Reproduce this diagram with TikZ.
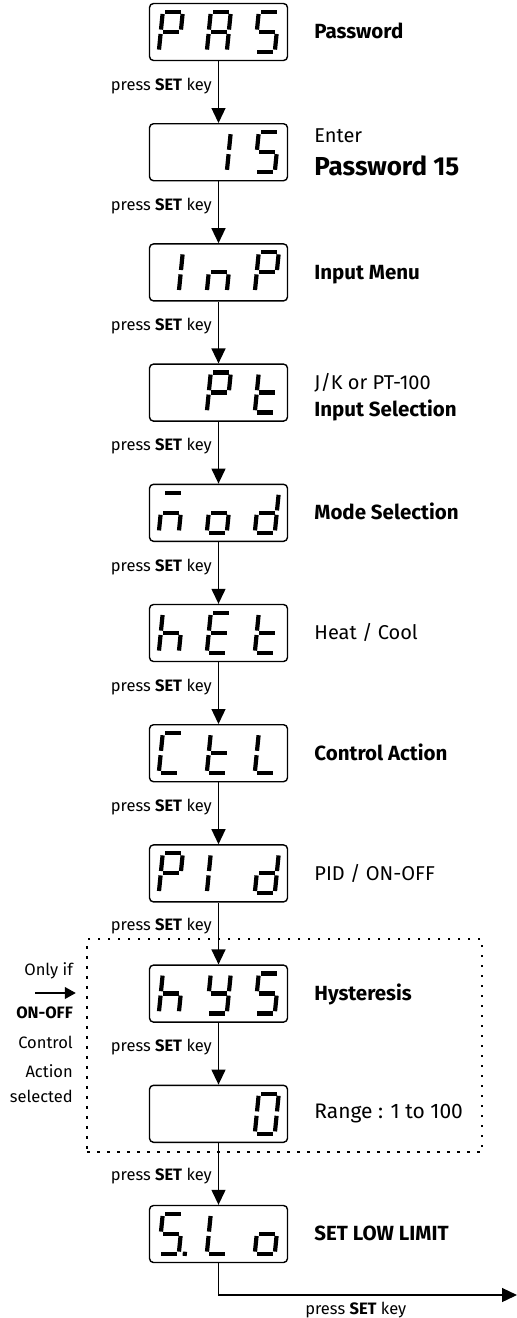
\documentclass[tikz,border=0pt]{standalone}
\usepackage{fontspec}
\setmainfont{Fira Sans}
\usetikzlibrary{arrows.meta,positioning,calc}
\tikzset{
  display/.style={draw,rounded corners=4pt,line width=1.4pt,
    minimum width=138pt,minimum height=57pt,inner sep=0pt},
  seg/.style={line width=4.2pt,line cap=butt},
  sega/.style={insert path={(2.2,0) -- (17.8,0)}},
  segb/.style={insert path={(20,2.2) -- (20,17.8)}},
  segc/.style={insert path={(20,22.2) -- (20,37.8)}},
  segd/.style={insert path={(2.2,40) -- (17.8,40)}},
  sege/.style={insert path={(0,22.2) -- (0,37.8)}},
  segf/.style={insert path={(0,2.2) -- (0,17.8)}},
  segg/.style={insert path={(2.2,20) -- (17.8,20)}},
  segdp/.style={insert path={(26,37.9) -- (26,42.1)}},
  segnone/.style={},
  lbl/.style={font=\fontsize{20}{24}\selectfont,inner sep=0pt,
    text height=13.8pt,text depth=0pt},
  boldlbl/.style={lbl,font=\fontsize{20.5}{24}\selectfont\bfseries},
  press/.style={font=\fontsize{16.5}{20}\selectfont,inner xsep=6pt,
    inner ysep=0pt,text height=11.4pt,text depth=0pt},
  note/.style={press,inner xsep=0pt},
  flowarrow/.style={-{Triangle[length=15pt,width=14pt]},line width=1.3pt},
  hintarrow/.style={-{Triangle[length=11pt,width=12pt]},line width=1.1pt},
  groupbox/.style={draw,line width=2.5pt,dash pattern=on 2.5pt off 7.5pt}
}
% one digit of a seven segment display, #2 = slot 0..2
\newcommand{\segslot}[3]{%
  \begin{scope}[shift={($(#1.north west)+(14+48*#2,9)$)},xslant=0.1]
    \foreach \sg in {#3} {\draw[seg,seg\sg];}
  \end{scope}}
\newcommand{\showcode}[4]{\segslot{#1}{0}{#2}\segslot{#1}{1}{#3}\segslot{#1}{2}{#4}}

\begin{document}
\begin{tikzpicture}[x=1pt,y=-1pt,node distance=61.8pt]
\useasboundingbox (0,0) rectangle (517,1318);
\node[display] (pas) at (218.5,32) {};
\node[display,below=of pas] (fifteen) {};
\node[display,below=of fifteen] (inp) {};
\node[display,below=of inp] (pt) {};
\node[display,below=of pt] (mod) {};
\node[display,below=of mod] (het) {};
\node[display,below=of het] (ctl) {};
\node[display,below=of ctl] (pid) {};
\node[display,below=of pid] (hys) {};
\node[display,below=of hys] (zero) {};
\node[display,below=of zero] (slo) {};

% what the displays show
\showcode{pas}{a,b,e,f,g}{a,b,c,e,f,g}{a,c,d,f,g}
\showcode{fifteen}{none}{b,c}{a,c,d,f,g}
\showcode{inp}{b,c}{c,e,g}{a,b,e,f,g}
\showcode{pt}{none}{a,b,e,f,g}{d,e,f,g}
\showcode{mod}{a,c,e,g}{c,d,e,g}{b,c,d,e,g}
\showcode{het}{c,e,f,g}{a,d,e,f,g}{d,e,f,g}
\showcode{ctl}{a,d,e,f}{d,e,f,g}{d,e,f}
\showcode{pid}{a,b,e,f,g}{e,f}{b,c,d,e,g}
\showcode{hys}{c,e,f,g}{b,c,d,f,g}{a,c,d,f,g}
\showcode{zero}{none}{none}{a,b,c,d,e,f}
\showcode{slo}{a,c,d,f,g,dp}{d,e,f}{c,d,e,g}

% descriptions
\node[boldlbl,right=26pt of pas] (paslbl) {Password};
\node[lbl,right=26pt of fifteen,yshift=16.5pt] (enterlbl) {Enter};
\node[boldlbl,font=\fontsize{26}{30}\selectfont\bfseries,text height=17.8pt,
  right=26pt of fifteen,yshift=-14.5pt] (pwlbl) {Password 15};
\node[boldlbl,right=26pt of inp] (inplbl) {Input Menu};
\node[lbl,right=26pt of pt,yshift=10pt] (typelbl) {J/K or PT-100};
\node[boldlbl,right=26pt of pt,yshift=-16.5pt] (ptlbl) {Input Selection};
\node[boldlbl,right=26pt of mod] (modlbl) {Mode Selection};
\node[lbl,right=26pt of het] (hetlbl) {Heat / Cool};
\node[boldlbl,right=26pt of ctl] (ctllbl) {Control Action};
\node[lbl,right=26pt of pid] (pidlbl) {PID / ON-OFF};
\node[boldlbl,right=26pt of hys] (hyslbl) {Hysteresis};
\node[lbl,font=\fontsize{21}{25}\selectfont,text height=14.5pt,
  right=26pt of zero,yshift=3pt] (rangelbl) {Range : 1 to 100};
\node[boldlbl,right=26pt of slo] (slolbl) {SET LOW LIMIT};

% ON-OFF only part
\node[groupbox,minimum width=395pt,minimum height=213pt] (opt) at (284.5,1045.5) {};
\node[note,anchor=east] (onlyif) at (73,970) {Only if};
\node[note,anchor=east] (onoff) at (73,1013) {\textbf{ON-OFF}};
\node[note,anchor=east] (control) at (73,1043) {Control};
\node[note,anchor=east] (action) at (73,1072) {Action};
\node[note,anchor=east] (selected) at (73,1097) {selected};
\coordinate (hint) at (35,993);
\draw[hintarrow,shorten >=10pt] (hint) -- (hint -| opt.west);

\draw[flowarrow] (pas) -- node[press,left,pos=0.38] {press \textbf{SET} key} (fifteen);
\draw[flowarrow] (fifteen) -- node[press,left,pos=0.38] {press \textbf{SET} key} (inp);
\draw[flowarrow] (inp) -- node[press,left,pos=0.38] {press \textbf{SET} key} (pt);
\draw[flowarrow] (pt) -- node[press,left,pos=0.38] {press \textbf{SET} key} (mod);
\draw[flowarrow] (mod) -- node[press,left,pos=0.38] {press \textbf{SET} key} (het);
\draw[flowarrow] (het) -- node[press,left,pos=0.38] {press \textbf{SET} key} (ctl);
\draw[flowarrow] (ctl) -- node[press,left,pos=0.38] {press \textbf{SET} key} (pid);
\draw[flowarrow] (pid) -- node[press,left,pos=0.36] {press \textbf{SET} key} (hys);
\draw[flowarrow] (hys) -- node[press,left,pos=0.38] {press \textbf{SET} key} (zero);
\draw[flowarrow] (zero) -- node[press,left,pos=0.52] {press \textbf{SET} key} (slo);
\coordinate (exit) at (517,1295);
\draw[flowarrow] (slo) |- node[press,below=7pt,pos=0.73] {press \textbf{SET} key} (exit);
\end{tikzpicture}
\end{document}
